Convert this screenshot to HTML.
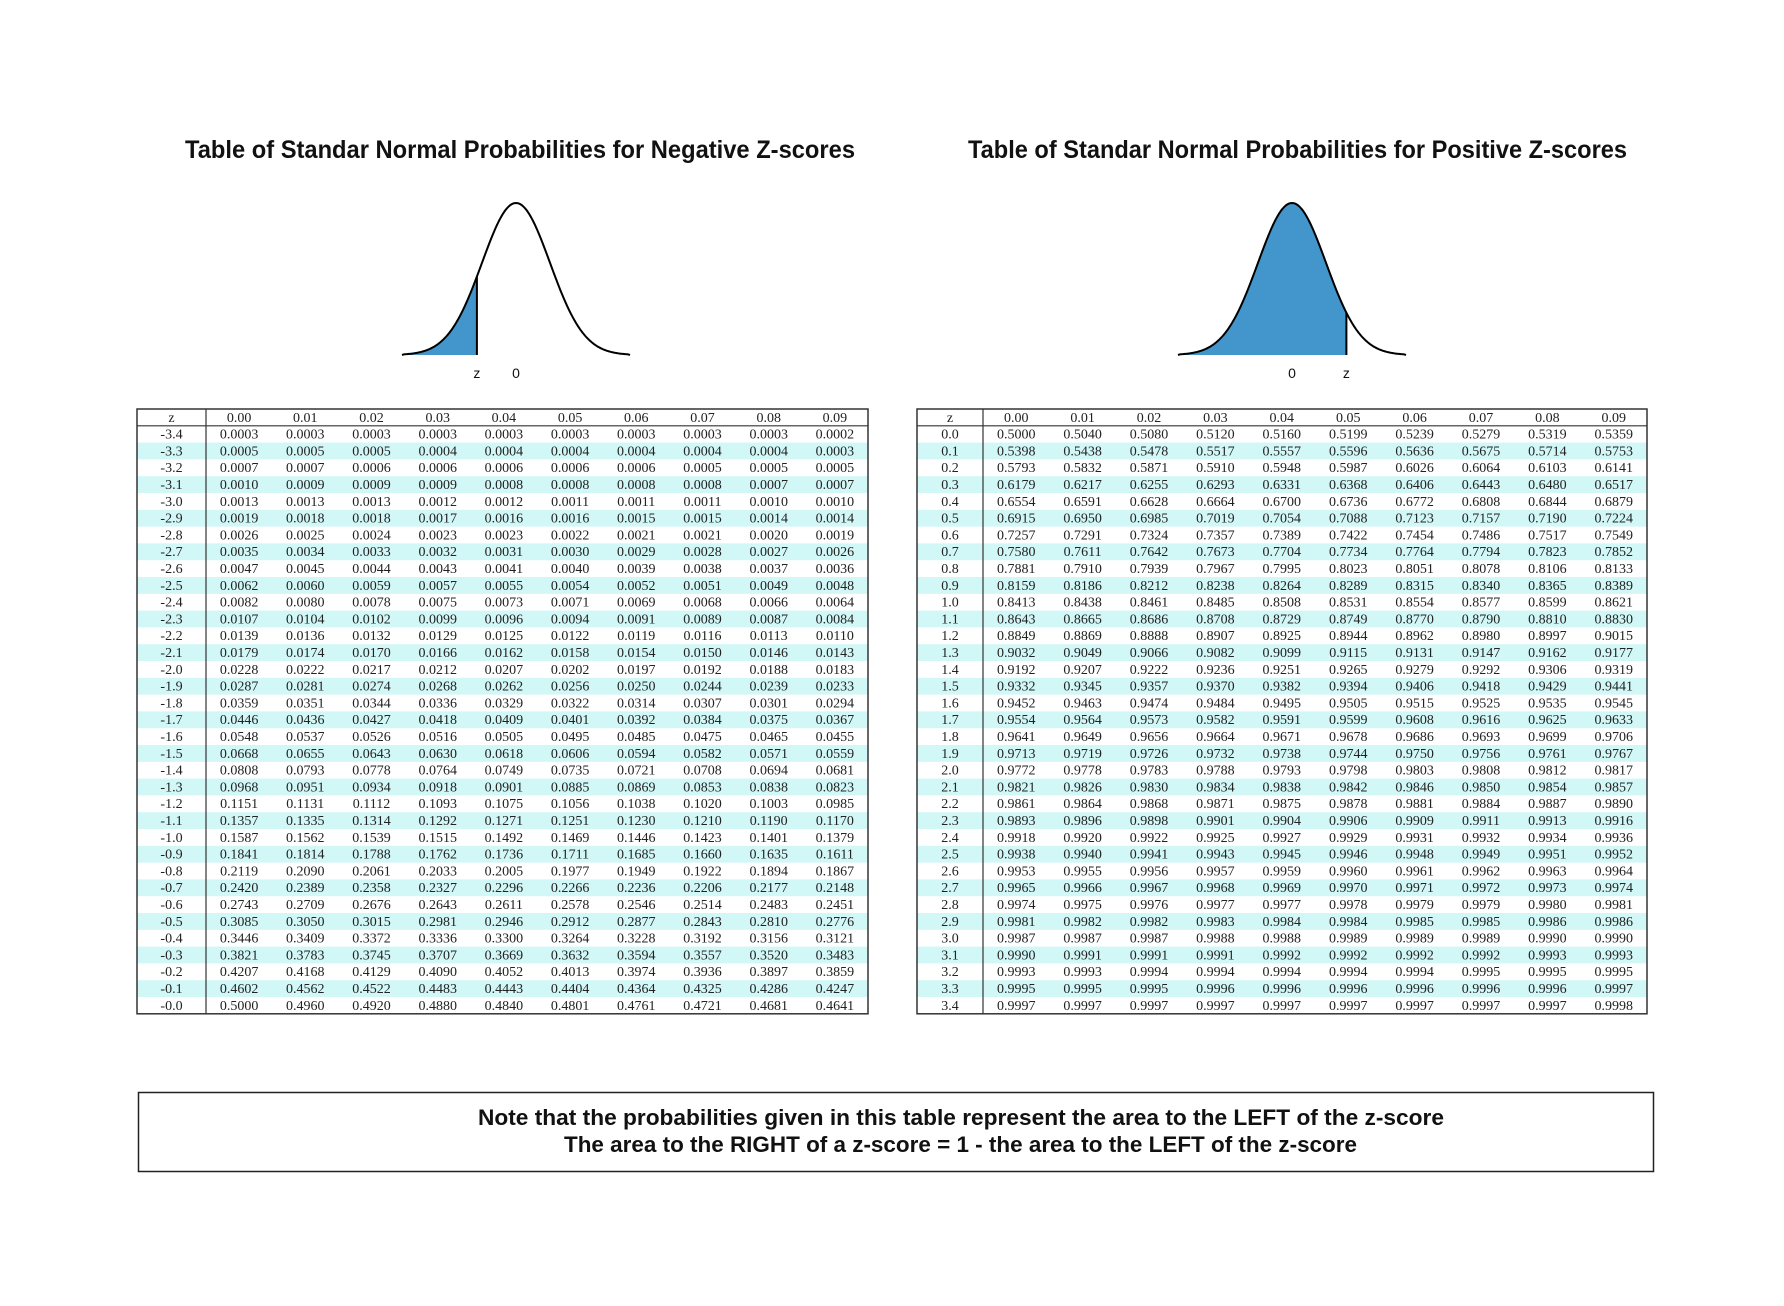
<!DOCTYPE html>
<html><head><meta charset="utf-8"><style>
html,body{margin:0;padding:0;background:#fff;}
svg{display:block;}
.t{font-family:"Liberation Serif",serif;font-size:14px;fill:#222;}
.h{font-family:"Liberation Sans",sans-serif;font-weight:bold;fill:#111;}
</style></head><body>
<svg id="chart" width="1784" height="1306" xmlns="http://www.w3.org/2000/svg">
<rect width="1784" height="1306" fill="#fff"/>
<text class="h" x="185" y="158" font-size="25" textLength="670" lengthAdjust="spacingAndGlyphs">Table of Standar Normal Probabilities for Negative Z-scores</text>
<text class="h" x="968" y="158" font-size="25" textLength="659" lengthAdjust="spacingAndGlyphs">Table of Standar Normal Probabilities for Positive Z-scores</text>
<g id="curves"></g>
<g id="tables"></g>
<rect x="138.5" y="1092.5" width="1515" height="79" fill="none" stroke="#222" stroke-width="1.5"/>
<text class="h" x="478" y="1125" font-size="22" textLength="966" lengthAdjust="spacingAndGlyphs">Note that the probabilities given in this table represent the area to the LEFT of the z-score</text>
<text class="h" x="564" y="1152" font-size="22" textLength="793" lengthAdjust="spacingAndGlyphs">The area to the RIGHT of a z-score = 1 - the area to the LEFT of the z-score</text>
</svg>
<script>
const colHeaders = ["0.00","0.01","0.02","0.03","0.04","0.05","0.06","0.07","0.08","0.09"];
const negZ = ["-3.4","-3.3","-3.2","-3.1","-3.0","-2.9","-2.8","-2.7","-2.6","-2.5","-2.4","-2.3","-2.2","-2.1","-2.0","-1.9","-1.8","-1.7","-1.6","-1.5","-1.4","-1.3","-1.2","-1.1","-1.0","-0.9","-0.8","-0.7","-0.6","-0.5","-0.4","-0.3","-0.2","-0.1","-0.0"];
const negValues = [
"0.0003 0.0003 0.0003 0.0003 0.0003 0.0003 0.0003 0.0003 0.0003 0.0002",
"0.0005 0.0005 0.0005 0.0004 0.0004 0.0004 0.0004 0.0004 0.0004 0.0003",
"0.0007 0.0007 0.0006 0.0006 0.0006 0.0006 0.0006 0.0005 0.0005 0.0005",
"0.0010 0.0009 0.0009 0.0009 0.0008 0.0008 0.0008 0.0008 0.0007 0.0007",
"0.0013 0.0013 0.0013 0.0012 0.0012 0.0011 0.0011 0.0011 0.0010 0.0010",
"0.0019 0.0018 0.0018 0.0017 0.0016 0.0016 0.0015 0.0015 0.0014 0.0014",
"0.0026 0.0025 0.0024 0.0023 0.0023 0.0022 0.0021 0.0021 0.0020 0.0019",
"0.0035 0.0034 0.0033 0.0032 0.0031 0.0030 0.0029 0.0028 0.0027 0.0026",
"0.0047 0.0045 0.0044 0.0043 0.0041 0.0040 0.0039 0.0038 0.0037 0.0036",
"0.0062 0.0060 0.0059 0.0057 0.0055 0.0054 0.0052 0.0051 0.0049 0.0048",
"0.0082 0.0080 0.0078 0.0075 0.0073 0.0071 0.0069 0.0068 0.0066 0.0064",
"0.0107 0.0104 0.0102 0.0099 0.0096 0.0094 0.0091 0.0089 0.0087 0.0084",
"0.0139 0.0136 0.0132 0.0129 0.0125 0.0122 0.0119 0.0116 0.0113 0.0110",
"0.0179 0.0174 0.0170 0.0166 0.0162 0.0158 0.0154 0.0150 0.0146 0.0143",
"0.0228 0.0222 0.0217 0.0212 0.0207 0.0202 0.0197 0.0192 0.0188 0.0183",
"0.0287 0.0281 0.0274 0.0268 0.0262 0.0256 0.0250 0.0244 0.0239 0.0233",
"0.0359 0.0351 0.0344 0.0336 0.0329 0.0322 0.0314 0.0307 0.0301 0.0294",
"0.0446 0.0436 0.0427 0.0418 0.0409 0.0401 0.0392 0.0384 0.0375 0.0367",
"0.0548 0.0537 0.0526 0.0516 0.0505 0.0495 0.0485 0.0475 0.0465 0.0455",
"0.0668 0.0655 0.0643 0.0630 0.0618 0.0606 0.0594 0.0582 0.0571 0.0559",
"0.0808 0.0793 0.0778 0.0764 0.0749 0.0735 0.0721 0.0708 0.0694 0.0681",
"0.0968 0.0951 0.0934 0.0918 0.0901 0.0885 0.0869 0.0853 0.0838 0.0823",
"0.1151 0.1131 0.1112 0.1093 0.1075 0.1056 0.1038 0.1020 0.1003 0.0985",
"0.1357 0.1335 0.1314 0.1292 0.1271 0.1251 0.1230 0.1210 0.1190 0.1170",
"0.1587 0.1562 0.1539 0.1515 0.1492 0.1469 0.1446 0.1423 0.1401 0.1379",
"0.1841 0.1814 0.1788 0.1762 0.1736 0.1711 0.1685 0.1660 0.1635 0.1611",
"0.2119 0.2090 0.2061 0.2033 0.2005 0.1977 0.1949 0.1922 0.1894 0.1867",
"0.2420 0.2389 0.2358 0.2327 0.2296 0.2266 0.2236 0.2206 0.2177 0.2148",
"0.2743 0.2709 0.2676 0.2643 0.2611 0.2578 0.2546 0.2514 0.2483 0.2451",
"0.3085 0.3050 0.3015 0.2981 0.2946 0.2912 0.2877 0.2843 0.2810 0.2776",
"0.3446 0.3409 0.3372 0.3336 0.3300 0.3264 0.3228 0.3192 0.3156 0.3121",
"0.3821 0.3783 0.3745 0.3707 0.3669 0.3632 0.3594 0.3557 0.3520 0.3483",
"0.4207 0.4168 0.4129 0.4090 0.4052 0.4013 0.3974 0.3936 0.3897 0.3859",
"0.4602 0.4562 0.4522 0.4483 0.4443 0.4404 0.4364 0.4325 0.4286 0.4247",
"0.5000 0.4960 0.4920 0.4880 0.4840 0.4801 0.4761 0.4721 0.4681 0.4641"];
const posZ = ["0.0","0.1","0.2","0.3","0.4","0.5","0.6","0.7","0.8","0.9","1.0","1.1","1.2","1.3","1.4","1.5","1.6","1.7","1.8","1.9","2.0","2.1","2.2","2.3","2.4","2.5","2.6","2.7","2.8","2.9","3.0","3.1","3.2","3.3","3.4"];
const posValues = [
"0.5000 0.5040 0.5080 0.5120 0.5160 0.5199 0.5239 0.5279 0.5319 0.5359",
"0.5398 0.5438 0.5478 0.5517 0.5557 0.5596 0.5636 0.5675 0.5714 0.5753",
"0.5793 0.5832 0.5871 0.5910 0.5948 0.5987 0.6026 0.6064 0.6103 0.6141",
"0.6179 0.6217 0.6255 0.6293 0.6331 0.6368 0.6406 0.6443 0.6480 0.6517",
"0.6554 0.6591 0.6628 0.6664 0.6700 0.6736 0.6772 0.6808 0.6844 0.6879",
"0.6915 0.6950 0.6985 0.7019 0.7054 0.7088 0.7123 0.7157 0.7190 0.7224",
"0.7257 0.7291 0.7324 0.7357 0.7389 0.7422 0.7454 0.7486 0.7517 0.7549",
"0.7580 0.7611 0.7642 0.7673 0.7704 0.7734 0.7764 0.7794 0.7823 0.7852",
"0.7881 0.7910 0.7939 0.7967 0.7995 0.8023 0.8051 0.8078 0.8106 0.8133",
"0.8159 0.8186 0.8212 0.8238 0.8264 0.8289 0.8315 0.8340 0.8365 0.8389",
"0.8413 0.8438 0.8461 0.8485 0.8508 0.8531 0.8554 0.8577 0.8599 0.8621",
"0.8643 0.8665 0.8686 0.8708 0.8729 0.8749 0.8770 0.8790 0.8810 0.8830",
"0.8849 0.8869 0.8888 0.8907 0.8925 0.8944 0.8962 0.8980 0.8997 0.9015",
"0.9032 0.9049 0.9066 0.9082 0.9099 0.9115 0.9131 0.9147 0.9162 0.9177",
"0.9192 0.9207 0.9222 0.9236 0.9251 0.9265 0.9279 0.9292 0.9306 0.9319",
"0.9332 0.9345 0.9357 0.9370 0.9382 0.9394 0.9406 0.9418 0.9429 0.9441",
"0.9452 0.9463 0.9474 0.9484 0.9495 0.9505 0.9515 0.9525 0.9535 0.9545",
"0.9554 0.9564 0.9573 0.9582 0.9591 0.9599 0.9608 0.9616 0.9625 0.9633",
"0.9641 0.9649 0.9656 0.9664 0.9671 0.9678 0.9686 0.9693 0.9699 0.9706",
"0.9713 0.9719 0.9726 0.9732 0.9738 0.9744 0.9750 0.9756 0.9761 0.9767",
"0.9772 0.9778 0.9783 0.9788 0.9793 0.9798 0.9803 0.9808 0.9812 0.9817",
"0.9821 0.9826 0.9830 0.9834 0.9838 0.9842 0.9846 0.9850 0.9854 0.9857",
"0.9861 0.9864 0.9868 0.9871 0.9875 0.9878 0.9881 0.9884 0.9887 0.9890",
"0.9893 0.9896 0.9898 0.9901 0.9904 0.9906 0.9909 0.9911 0.9913 0.9916",
"0.9918 0.9920 0.9922 0.9925 0.9927 0.9929 0.9931 0.9932 0.9934 0.9936",
"0.9938 0.9940 0.9941 0.9943 0.9945 0.9946 0.9948 0.9949 0.9951 0.9952",
"0.9953 0.9955 0.9956 0.9957 0.9959 0.9960 0.9961 0.9962 0.9963 0.9964",
"0.9965 0.9966 0.9967 0.9968 0.9969 0.9970 0.9971 0.9972 0.9973 0.9974",
"0.9974 0.9975 0.9976 0.9977 0.9977 0.9978 0.9979 0.9979 0.9980 0.9981",
"0.9981 0.9982 0.9982 0.9983 0.9984 0.9984 0.9985 0.9985 0.9986 0.9986",
"0.9987 0.9987 0.9987 0.9988 0.9988 0.9989 0.9989 0.9989 0.9990 0.9990",
"0.9990 0.9991 0.9991 0.9991 0.9992 0.9992 0.9992 0.9992 0.9993 0.9993",
"0.9993 0.9993 0.9994 0.9994 0.9994 0.9994 0.9994 0.9995 0.9995 0.9995",
"0.9995 0.9995 0.9995 0.9996 0.9996 0.9996 0.9996 0.9996 0.9996 0.9997",
"0.9997 0.9997 0.9997 0.9997 0.9997 0.9997 0.9997 0.9997 0.9997 0.9998"];
const curveZ = [-1.15, 1.6];

const NS = "http://www.w3.org/2000/svg";
function mk(tag, attrs, parent){ const e=document.createElementNS(NS,tag); for(const k in attrs) e.setAttribute(k,attrs[k]); parent.appendChild(e); return e; }

const cg = document.getElementById('curves');
function drawCurve(cx, zval, labelName){
  const sigma = 34, base = 355, amp = 152, half = 112;
  const xs = v => cx + v*sigma;
  const y = x => base - amp*Math.exp(-0.5*Math.pow((x-cx)/sigma,2));
  const zx = xs(zval);
  let d = `M${cx-half},${base}`;
  for(let x=cx-half; x<=zx; x+=1) d += ` L${x},${y(x)}`;
  d += ` L${zx},${y(zx)} L${zx},${base} Z`;
  const sh = mk('path',{d:d,fill:'#4396cc'},cg);
  
  
  let c = `M${cx-half-2},${base}`;
  for(let x=cx-half; x<=cx+half; x+=1) c += ` L${x},${y(x)}`;
  c += ` L${cx+half+2},${base}`;
  const cp = mk('path',{d:c,fill:'none',stroke:'#000','stroke-width':2},cg);
  
  
  const zl = mk('line',{x1:zx,x2:zx,y1:y(zx),y2:base,stroke:'#000','stroke-width':2},cg);
  
  
  const t1 = mk('text',{x:zx,y:378,'text-anchor':'middle','font-family':'Liberation Sans, sans-serif','font-size':14,fill:'#111'},cg);
  t1.textContent='z';
  
  
  const t2 = mk('text',{x:cx,y:378,'text-anchor':'middle','font-family':'Liberation Sans, sans-serif','font-size':14,fill:'#111'},cg);
  t2.textContent='0';
  
  
}
drawCurve(516, curveZ[0], 'negative');
drawCurve(1292, curveZ[1], 'positive');

const tg = document.getElementById('tables');
function drawTable(x0, zw, w, zs, vals, name){
  const y0 = 409, rh = 16.8;
  const cw = (w - zw)/10;
  const g = mk('g',{},tg);
  
  
  zs.forEach((z,i)=>{
    if(i%2===1){
      const r = mk('rect',{x:x0,y:y0+rh*(i+1),width:w,height:rh,fill:'#d2f7f7'},g);
      
      
    }
  });
  const hz = mk('text',{x:x0+zw/2,y:y0+rh-4,'text-anchor':'middle',class:'t'},g);
  hz.textContent='z';
  
  
  colHeaders.forEach((h,j)=>{
    const t = mk('text',{x:x0+zw+cw*(j+0.5),y:y0+rh-4,'text-anchor':'middle',class:'t'},g);
    t.textContent=h;
    
    
  });
  zs.forEach((z,i)=>{
    const yy = y0+rh*(i+2)-4;
    const t = mk('text',{x:x0+zw/2,y:yy,'text-anchor':'middle',class:'t'},g);
    t.textContent=z;
    
    
    vals[i].split(' ').forEach((v,j)=>{
      const c = mk('text',{x:x0+zw+cw*(j+0.5),y:yy,'text-anchor':'middle',class:'t'},g);
      c.textContent=v;
      
      
    });
  });
  const H = rh*(zs.length+1);
  const b = mk('rect',{x:x0,y:y0,width:w,height:H,fill:'none',stroke:'#333','stroke-width':1.5},g);
  
  
  const l1 = mk('line',{x1:x0,x2:x0+w,y1:y0+rh,y2:y0+rh,stroke:'#333','stroke-width':1.2},g);
  
  
  const l2 = mk('line',{x1:x0+zw,x2:x0+zw,y1:y0,y2:y0+H,stroke:'#333','stroke-width':1.2},g);
  
  
}
drawTable(137, 69, 731, negZ, negValues, 'negative-z-table');
drawTable(917, 66, 730, posZ, posValues, 'positive-z-table');
</script>
</body></html>
